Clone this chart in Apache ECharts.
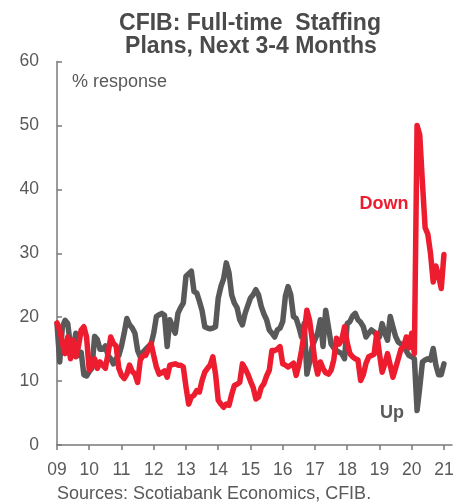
<!DOCTYPE html>
<html>
<head>
<meta charset="utf-8">
<script src="https://cdn.jsdelivr.net/npm/echarts@6/dist/echarts.min.js"></script>
<style>
  html, body { margin: 0; padding: 0; background: #fff; }
  #chart { width: 473px; height: 504px; }
</style>
</head>
<body>
<div id="chart"></div>
<script>
// CFIB full-time staffing plans, monthly share of firms (%), Jan 2009 onward
const startYear = 2009;
const yearTicks = [2009, 2010, 2011, 2012, 2013, 2014, 2015, 2016, 2017, 2018, 2019, 2020, 2021];
const yTicks = [0, 10, 20, 30, 40, 50, 60];

const up = [
  19, 13, 18.5, 19.5, 19, 15.5, 15, 17.5, 14, 14.5, 11, 10.8,
  11.5, 12, 17, 16.5, 15, 15, 15.5, 14, 13.5, 12.7, 13.5, 14,
  15.5, 17.5, 19.8, 18.8, 18.3, 17.5, 14.8, 13.8, 14.5, 15, 15.4, 15.8,
  17.5, 20.1, 20.4, 20.6, 20.3, 15.4, 19.6, 18.5, 17.5, 20.6, 21.5, 22.2,
  26.4, 26.8, 27.2, 24, 23.8, 22.5, 21, 18.5, 18.3, 18.2, 18.3, 18.5,
  23, 24.8, 26, 28.5, 27, 23.5, 22.2, 21.5, 19.6, 18.8, 20.6, 21.8,
  23, 23.5, 24.3, 23.5, 21.7, 20.5, 19.6, 18, 17.5, 16.9, 18, 18.3,
  19.3, 23.3, 24.8, 23.5, 20.1, 19.8, 18.5, 16.9, 19, 11.1, 13, 15.4,
  16.5, 17.5, 19.6, 15.4, 21.1, 18.5, 15.8, 15.2, 14.8, 14.5, 14.3, 13.5,
  19, 19.3, 20.2, 20.6, 19.6, 19.2, 18.5, 16.9, 17.5, 18, 17.7, 17.2,
  16.9, 19, 17.5, 16.4, 20.1, 18.5, 17, 16.1, 15.8, 15.4, 14.7, 14,
  13.8, 13.5, 5.4, 9, 13, 13.3, 13.5, 13.3, 15.1, 12.5, 11, 11,
  12.7
];

const down = [
  19.1, 18, 16, 14.3, 16.9, 13.5, 16.4, 13.8, 15.5, 18, 18.5, 16.9,
  11.7, 12.5, 13.5, 12, 13, 12.5, 12, 14.3, 16.9, 15.9, 15.5, 12,
  10.9, 10.4, 11.1, 12.5, 11.5, 11.1, 9.8, 13.3, 14, 14, 15, 15.9,
  14, 12.2, 11.1, 11.3, 11.6, 10.6, 12.5, 12.6, 12.7, 12.5, 12.5, 12.2,
  9.1, 6.4, 7.5, 7.8, 8.5, 8.3, 10.1, 11.4, 12, 12.5, 13.8, 11.1,
  7, 6.4, 5.9, 6.4, 6.2, 7.9, 9.3, 9.5, 9.8, 12.7, 12, 11.1,
  10, 9, 7.2, 7.5, 9, 9.6, 10.8, 11.7, 14.8, 14.8, 15, 15.4,
  12.7, 12.5, 12.2, 12.5, 12.8, 10.9, 12.5, 14.8, 17.5, 21.1, 19.5, 16.4,
  13, 11.1, 13, 12, 11.3, 11.1, 11.7, 13.3, 16.7, 15.8, 16.5, 18.5,
  16, 14.3, 13.8, 13.5, 13.3, 10.1, 11, 12.8, 13.8, 14, 14.2, 17.5,
  14.3, 11.4, 12.7, 14.3, 12.5, 10.6, 12, 13.5, 15, 15.4, 16.9, 15.2,
  17.5, 14.3, 50, 48.5, 41, 34, 33, 30, 25.5, 28, 26.5, 24.5,
  29.8
];

// month i -> decimal year on the x axis
const toPairs = arr => arr.map((v, i) => [startYear + i / 12, v]);

const FONT = "'Liberation Sans', Arial, sans-serif";
const GREY = '#595959';
const RED = '#ED1C2E';
const AXIS = '#7a7a7a';

const chart = echarts.init(document.getElementById('chart'), null, { renderer: 'canvas' });

chart.setOption({
  animation: false,
  backgroundColor: '#fff',
  grid: { left: 57, right: 21, top: 61.6, bottom: 59, outerBoundsMode: 'none' },
  xAxis: {
    type: 'value',
    min: 2009,
    max: 2021.25,
    splitLine: { show: false },
    axisLine: { show: true, lineStyle: { color: AXIS, width: 1.5 } },
    axisTick: { show: true, length: 5, inside: false, customValues: yearTicks, lineStyle: { color: AXIS, width: 1.5 } },
    axisLabel: {
      customValues: yearTicks,
      formatter: v => String(Math.round(v) % 100).padStart(2, '0'),
      color: GREY, fontSize: 17.5, fontFamily: FONT, margin: 16
    }
  },
  yAxis: {
    type: 'value',
    min: 0, max: 60, interval: 10,
    splitLine: { show: false },
    axisLine: { show: true, lineStyle: { color: AXIS, width: 1.5 } },
    axisTick: { show: true, inside: true, length: 5, lineStyle: { color: AXIS, width: 1.5 } },
    axisLabel: {
      customValues: yTicks,
      color: GREY, fontSize: 17.5, fontFamily: FONT, margin: 18
    }
  },
  series: [
    {
      name: 'Up', type: 'line', data: toPairs(up),
      showSymbol: false, symbol: 'none',
      lineStyle: { color: GREY, width: 5.5, cap: 'round', join: 'round' },
      z: 2
    },
    {
      name: 'Down', type: 'line', data: toPairs(down),
      showSymbol: false, symbol: 'none',
      lineStyle: { color: RED, width: 5.5, cap: 'round', join: 'round' },
      z: 3
    }
  ],
  graphic: [
    { type: 'text', x: 250, y: 24, z: 10, style: { text: 'CFIB: Full-time  Staffing', fill: '#4a4a4a', font: 'bold 23px ' + FONT, align: 'center', verticalAlign: 'middle' } },
    { type: 'text', x: 251, y: 47, z: 10, style: { text: 'Plans, Next 3-4 Months', fill: '#4a4a4a', font: 'bold 23px ' + FONT, align: 'center', verticalAlign: 'middle' } },
    { type: 'text', x: 72, y: 82, z: 10, style: { text: '% response', fill: GREY, font: '18px ' + FONT, align: 'left', verticalAlign: 'middle' } },
    { type: 'text', x: 384, y: 204, z: 10, style: { text: 'Down', fill: RED, font: 'bold 18px ' + FONT, align: 'center', verticalAlign: 'middle' } },
    { type: 'text', x: 392, y: 413, z: 10, style: { text: 'Up', fill: GREY, font: 'bold 18px ' + FONT, align: 'center', verticalAlign: 'middle' } },
    { type: 'text', x: 57, y: 494, z: 10, style: { text: 'Sources: Scotiabank Economics, CFIB.', fill: GREY, font: '18px ' + FONT, align: 'left', verticalAlign: 'middle' } }
  ]
});
</script>
</body>
</html>
